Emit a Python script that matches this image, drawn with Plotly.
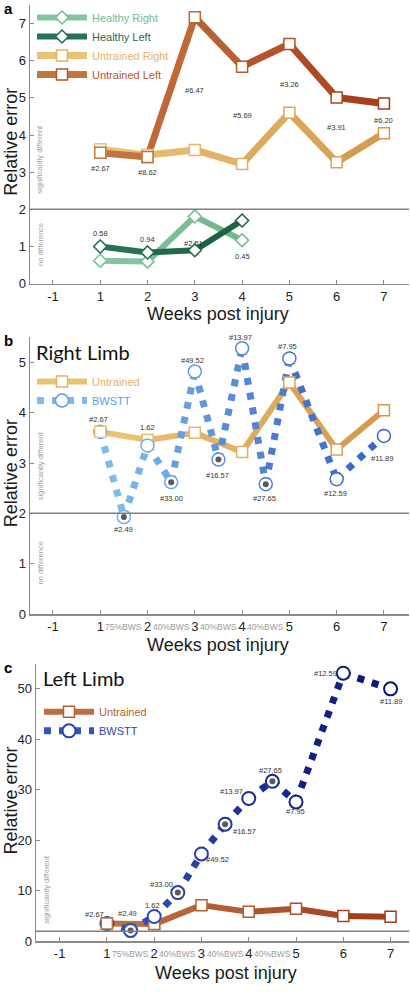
import plotly.graph_objects as go

W, H = 410, 992

# ---------------- data ----------------
TICK_POS = [0, 1, 2, 3, 4, 5, 6, 7]
TICK_TEXT = ["-1", "1", "2", "3", "4", "5", "6", "7"]

WEEKS = [1, 2, 3, 4, 5, 6, 7]
HEALTHY_WEEKS = [1, 2, 3, 4]
HEALTHY_RIGHT = [0.62, 0.60, 1.81, 1.17]
HEALTHY_LEFT = [1.00, 0.84, 0.90, 1.70]
UNTRAINED_RIGHT = [3.62, 3.46, 3.60, 3.22, 4.60, 3.27, 4.05]
UNTRAINED_LEFT = [3.52, 3.41, 7.17, 5.84, 6.45, 5.01, 4.85]

BWSTT_WEEKS = [1, 1.5, 2, 2.5, 3, 3.5, 4, 4.5, 5, 6, 7]
BWSTT_RIGHT = [3.62, 1.93, 3.35, 2.62, 4.82, 3.07, 5.28, 2.58, 5.08, 2.68, 3.54]
BWSTT_LEFT = [3.52, 2.17, 4.92, 9.65, 17.3, 23.2, 28.3, 31.7, 27.6, 53.1, 50.0]
BWSTT_FILLED = [False, True, False, True, False, True, False, True, False, False, False]

LABELS_UNTRAINED = ["#2.67", "#8.62", "#6.47", "#5.69", "#3.26", "#3.91", "#6.20"]
LABELS_HEALTHY = ["0.58", "0.94", "#2.51", "0.45"]
LABELS_BWSTT = ["#2.67", "#2.49", "1.62", "#33.00", "#49.52", "#16.57",
                "#13.97", "#27.65", "#7.95", "#12.59", "#11.89"]

BWS_POS = [1.5, 2.5, 3.5, 4.5]
BWS_TEXT = ["75%BWS", "40%BWS", "40%BWS", "40%BWS"]

# ---------------- styles / layout helpers ----------------
FONT = "Liberation Sans, Arial, sans-serif"
AXC = "#8a8a8a"


def px_x(p):
    return p / W


def px_y(p):
    return 1 - p / H


def hex2rgb(h):
    h = h.lstrip('#')
    return tuple(int(h[i:i + 2], 16) for i in (0, 2, 4))


def lerp(c0, c1, t):
    a, b = hex2rgb(c0), hex2rgb(c1)
    return 'rgb(%d,%d,%d)' % tuple(round(a[k] + (b[k] - a[k]) * t) for k in range(3))


fig = go.Figure()


def add_lines(x, y, c0, c1, width, dash, name, legend, ax, symbol, msize, mlw, lcol):
    n = len(x)
    for i in range(n - 1):
        col = lerp(c0, c1, (i + 0.5) / (n - 1))
        first = (i == 0)
        fig.add_trace(go.Scatter(
            x=x[i:i + 2], y=y[i:i + 2],
            mode='lines+markers' if first else 'lines',
            line=dict(color=col, width=width, dash=dash),
            marker=dict(symbol=symbol, size=msize, color='white',
                        line=dict(color=lcol, width=mlw)),
            name="<span style='color:%s'>%s</span>" % (lcol, name),
            showlegend=first, legend=legend,
            xaxis='x' + ax, yaxis='y' + ax, hoverinfo='skip'))


def add_markers(x, y, c0, c1, ax, symbol, msize, mlw, skip_first=False):
    n = len(x)
    cols = [lerp(c0, c1, i / (n - 1)) for i in range(n)]
    s = 1 if skip_first else 0
    fig.add_trace(go.Scatter(
        x=x[s:], y=y[s:], mode='markers',
        marker=dict(symbol=symbol, size=msize, color='white',
                    line=dict(color=cols[s:], width=mlw)),
        showlegend=False, xaxis='x' + ax, yaxis='y' + ax, hoverinfo='skip'))


def add_dots(x, y, flags, ax):
    fig.add_trace(go.Scatter(
        x=[xx for xx, f in zip(x, flags) if f],
        y=[yy for yy, f in zip(y, flags) if f],
        mode='markers', marker=dict(size=6, color='#5a5a5a'),
        showlegend=False, xaxis='x' + ax, yaxis='y' + ax, hoverinfo='skip'))


# colours
HR = ('#88c8a2', '#6db58a', '#74bb8f')
HL = ('#2b7858', '#1b5c40', '#1f6a4a')
UR = ('#ecc678', '#d3984c', '#e2b464')
UL = ('#c67a42', '#a33b1b', '#b5562b')
BR = ('#7fc1ee', '#3a64c4', '#5a9fe0')
ULc = ('#bf7444', '#9e3b1b', '#b5602e')
BL = ('#3658be', '#0a1676', '#2a46b0')

# ---------------- panel a ----------------
add_lines(HEALTHY_WEEKS, HEALTHY_RIGHT, HR[0], HR[1], 6, 'solid', 'Healthy Right', 'legend', '', 'diamond', 10, 1.5, HR[2])
add_lines(HEALTHY_WEEKS, HEALTHY_LEFT, HL[0], HL[1], 6, 'solid', 'Healthy Left', 'legend', '', 'diamond', 10, 1.5, HL[2])
add_lines(WEEKS, UNTRAINED_RIGHT, UR[0], UR[1], 7, 'solid', 'Untrained Right', 'legend', '', 'square', 11, 1.5, UR[2])
add_lines(WEEKS, UNTRAINED_LEFT, UL[0], UL[1], 7, 'solid', 'Untrained Left', 'legend', '', 'square', 11, 1.5, UL[2])
add_markers(HEALTHY_WEEKS, HEALTHY_RIGHT, HR[0], HR[1], '', 'diamond', 10, 1.5)
add_markers(HEALTHY_WEEKS, HEALTHY_LEFT, HL[0], HL[1], '', 'diamond', 10, 1.5)
add_markers(WEEKS, UNTRAINED_RIGHT, UR[0], UR[1], '', 'square', 11, 1.5)
add_markers(WEEKS, UNTRAINED_LEFT, UL[0], UL[1], '', 'square', 11, 1.5)

# ---------------- panel b ----------------
DOT = "7px,8px"
add_lines(WEEKS, UNTRAINED_RIGHT, UR[0], UR[1], 6, 'solid', 'Untrained', 'legend2', '2', 'square', 11, 1.5, UR[2])
add_lines(BWSTT_WEEKS, BWSTT_RIGHT, BR[0], BR[1], 7, DOT, 'BWSTT', 'legend2', '2', 'circle', 13, 1.5, BR[2])
add_markers(WEEKS, UNTRAINED_RIGHT, UR[0], UR[1], '2', 'square', 11, 1.5)
add_markers(BWSTT_WEEKS, BWSTT_RIGHT, BR[0], BR[1], '2', 'circle', 13, 1.5, skip_first=True)
add_dots(BWSTT_WEEKS, BWSTT_RIGHT, BWSTT_FILLED, '2')

# ---------------- panel c ----------------
add_lines(WEEKS, UNTRAINED_LEFT, ULc[0], ULc[1], 6, 'solid', 'Untrained', 'legend3', '3', 'square', 11, 1.5, ULc[2])
add_lines(BWSTT_WEEKS, BWSTT_LEFT, BL[0], BL[1], 7, DOT, 'BWSTT', 'legend3', '3', 'circle', 13, 2, BL[2])
add_markers(WEEKS, UNTRAINED_LEFT, ULc[0], ULc[1], '3', 'square', 11, 1.5)
add_markers(BWSTT_WEEKS, BWSTT_LEFT, BL[0], BL[1], '3', 'circle', 13, 2, skip_first=True)
add_dots(BWSTT_WEEKS, BWSTT_LEFT, BWSTT_FILLED, '3')

# ---------------- annotations ----------------
ann = []


def lab(text, x, y, ax, dx=0, dy=0, size=7.5, color='#333'):
    ann.append(dict(text=text, x=x, y=y, xref='x' + ax, yref='y' + ax,
                    xshift=dx, yshift=dy, showarrow=False,
                    font=dict(size=size, color=color, family=FONT),
                    xanchor='center', yanchor='middle'))


def ptext(text, xp, yp, size, color='#222', angle=0, anchor='center', family=FONT):
    ann.append(dict(text=text, x=px_x(xp), y=px_y(yp), xref='paper', yref='paper',
                    showarrow=False, textangle=angle,
                    font=dict(size=size, color=color, family=family),
                    xanchor=anchor, yanchor='middle'))


# panel a labels
UNTR_SHIFT = [-16, -16, -73, -49, -41, -30, -17]
for i, t in enumerate(LABELS_UNTRAINED):
    lab(t, WEEKS[i], UNTRAINED_LEFT[i], '', 0, UNTR_SHIFT[i])
HEAL_SHIFT = [(0, 13), (0, 13), (-1, 7), (0, -36)]
for i, t in enumerate(LABELS_HEALTHY):
    lab(t, HEALTHY_WEEKS[i], HEALTHY_LEFT[i], '', HEAL_SHIFT[i][0], HEAL_SHIFT[i][1])

# panel b labels
B_SHIFT = [(-2, 12), (0, -13), (0, 18), (0, -16), (-2, 11), (-1, -16),
           (-2, 11), (-1, -14), (-2, 12), (-1, -14), (-2, -23)]
for i, t in enumerate(LABELS_BWSTT):
    lab(t, BWSTT_WEEKS[i], BWSTT_RIGHT[i], '2', B_SHIFT[i][0], B_SHIFT[i][1])

# panel c labels
C_SHIFT = [(-12, 9), (-3, 17), (-2, 11), (-16, 8), (16, -6), (19, -7),
           (-17, 7), (-2, 11), (-1, -10), (-18, 0), (0, -13)]
for i, t in enumerate(LABELS_BWSTT):
    lab(t, BWSTT_WEEKS[i], BWSTT_LEFT[i], '3', C_SHIFT[i][0], C_SHIFT[i][1])

# BWS sub-labels under x axis
for ax, ypx in (('2', 632), ('3', 962)):
    for p, t in zip(BWS_POS, BWS_TEXT):
        ann.append(dict(text=t, x=p, y=px_y(ypx), xref='x' + ax, yref='paper',
                        showarrow=False, font=dict(size=8.5, color='#9a9a9a', family=FONT),
                        xanchor='center', yanchor='middle'))

# region texts
GRAY = '#a0a0a0'
ptext('significantly different', 40, 161, 7.5, GRAY, -90)
ptext('no difference', 40, 247, 7.5, GRAY, -90)
ptext('significantly different', 40, 470, 7.5, GRAY, -90)
ptext('no difference', 40, 568, 7.5, GRAY, -90)
ptext('significantly different', 47, 897, 7.5, GRAY, -90)

# axis titles
for yc in (143, 477, 807):
    ptext('Relative error', 11, yc, 18, '#1a1a1a', -90)
for xc, yc in ((218, 317), (218, 650), (226, 981)):
    ptext('Weeks post injury', xc, yc, 18, '#1a1a1a')

# panel letters and titles
ptext('<b>a</b>', 2, 9, 15, '#000', anchor='left')
ptext('<b>b</b>', 2, 343, 15, '#000', anchor='left')
ptext('<b>c</b>', 2, 673, 15, '#000', anchor='left')
ptext('Right Limb', 34, 355, 20, '#111', anchor='left', family='Lato, Open Sans, sans-serif')
ptext('Left Limb', 41, 684, 20, '#111', anchor='left', family='Lato, Open Sans, sans-serif')

# ---------------- shapes (threshold line at 2) ----------------
shapes = []
for ax in ('', '2', '3'):
    shapes.append(dict(type='line', xref='x%s domain' % ax, yref='y' + ax,
                       x0=0, x1=1, y0=2, y1=2, line=dict(color='#808080', width=1.5)))


def xax(domain, rng):
    return dict(domain=domain, range=rng, tickmode='array', tickvals=TICK_POS, ticktext=TICK_TEXT,
                showline=True, linecolor=AXC, linewidth=1.5, ticks='inside', ticklen=4,
                tickcolor=AXC, showgrid=False, zeroline=False,
                tickfont=dict(size=13, color='#222', family=FONT), fixedrange=True)


def yax(domain, rng, dtick, anchor):
    return dict(domain=domain, range=rng, dtick=dtick, tick0=0, anchor=anchor,
                showline=True, linecolor=AXC, linewidth=1.5, ticks='inside', ticklen=4,
                tickcolor=AXC, showgrid=False, zeroline=False,
                tickfont=dict(size=13, color='#222', family=FONT), fixedrange=True)


def leg(xp, yp):
    return dict(x=px_x(xp), y=px_y(yp), xanchor='left', yanchor='top', xref='paper', yref='paper',
                itemwidth=50, font=dict(size=11, family=FONT), bgcolor='rgba(0,0,0,0)',
                borderwidth=0, tracegroupgap=0, traceorder='normal')


fig.update_layout(
    width=W, height=H, margin=dict(l=0, r=0, t=0, b=0),
    paper_bgcolor='white', plot_bgcolor='white',
    font=dict(family=FONT),
    xaxis=dict(xax([px_x(30), px_x(409)], [-0.486, 7.53]), anchor='y'),
    yaxis=yax([px_y(286), px_y(5)], [0, 7.5], 1, 'x'),
    xaxis2=dict(xax([px_x(30), px_x(409)], [-0.486, 7.53]), anchor='y2'),
    yaxis2=yax([px_y(619), px_y(340)], [0, 5.5], 1, 'x2'),
    xaxis3=dict(xax([px_x(36), px_x(409)], [-0.5, 7.39]), anchor='y3'),
    yaxis3=yax([px_y(949), px_y(669)], [0, 55], 10, 'x3'),
    legend=leg(32, 3),
    legend2=leg(32, 370),
    legend3=leg(39, 703),
    annotations=ann, shapes=shapes,
    showlegend=True, hovermode=False,
)

fig.write_html(
    "out.html",
    config={'displayModeBar': False, 'staticPlot': True},
    post_script="document.body.style.margin='0';document.body.style.padding='0';"
                "document.body.style.overflow='hidden';",
)
